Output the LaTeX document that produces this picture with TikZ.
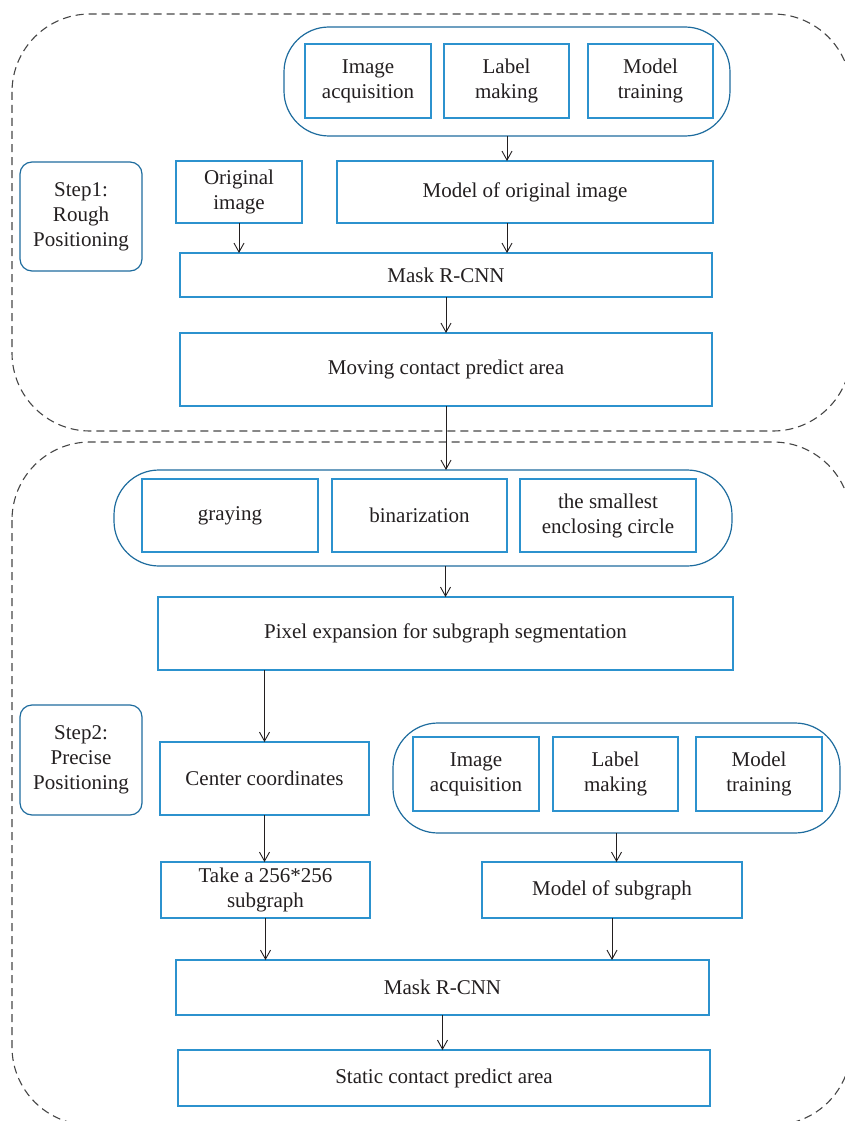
\documentclass[tikz,border=0pt]{standalone}
\usepackage{fontspec}
\setmainfont{Liberation Serif}
\usepackage{tikz}
\usetikzlibrary{arrows.meta}
\definecolor{boxblue}{RGB}{44,146,206}
\definecolor{pillblue}{RGB}{30,108,158}
\definecolor{framegray}{RGB}{70,70,70}
\definecolor{inkgray}{RGB}{35,31,32}

\begin{document}
\begin{tikzpicture}[x=1pt, y=-1pt, node distance=0 cm, outer sep = 0pt, font=\fontsize{21}{25}\selectfont, text=inkgray]

\tikzstyle{place}=[draw=boxblue, line width=1.4pt, rectangle, align=center, anchor=north west]
\tikzstyle{pill}=[draw=pillblue, line width=1.2pt, rectangle, rounded corners=45pt, anchor=north west]
\tikzstyle{stepbox}=[draw=pillblue, line width=1.2pt, rectangle, rounded corners=12pt, align=center, anchor=north west, minimum width=122pt]
\tikzstyle{region}=[draw=framegray, line width=1.1pt, dash pattern=on 8pt off 5pt, rounded corners=78pt]
\tikzstyle{flow}=[draw=inkgray, line width=0.9pt, -{Straight Barb[length=9pt, width=10pt]}]

\useasboundingbox (0,0) rectangle (844,1121);

\draw[region] (12,14) rectangle (851,431);
\draw[region] (12,442) rectangle (851,1125);

\node[stepbox, minimum height=109pt] (step1) at (20,162) {Step1:\\Rough\\Positioning};
\node[stepbox, minimum height=110pt] (step2) at (20,705) {Step2:\\Precise\\Positioning};

\node[pill, minimum width=446pt, minimum height=109pt] (grp1) at (284,27) {};
\node[place, minimum width=126pt, minimum height=74pt] (acq1) at (305,44) {Image\\acquisition}; \node[place, minimum width=125pt, minimum height=74pt] (lab1) at (444,44) {Label\\making}; \node[place, minimum width=125pt, minimum height=74pt] (trn1) at (588,44) {Model\\training};

\node[place, minimum width=126pt, minimum height=62pt] (orig) at (176,161) {Original\\image}; \node[place, minimum width=376pt, minimum height=62pt] (model1) at (337,161) {Model of original image};
\node[place, minimum width=532pt, minimum height=44pt] (mask1) at (180,253) {Mask R-CNN};
\node[place, minimum width=532pt, minimum height=73pt] (move) at (180,333) {Moving contact predict area};

\node[pill, minimum width=618pt, minimum height=96pt] (grp2) at (114,470) {};
\node[place, minimum width=176pt, minimum height=73pt] (gray) at (142,479) {graying}; \node[place, minimum width=175pt, minimum height=73pt] (binar) at (332,479) {binarization}; \node[place, minimum width=176pt, minimum height=73pt] (circ) at (520,479) {the smallest\\enclosing circle};
\node[place, minimum width=575pt, minimum height=73pt] (pixel) at (158,597) {Pixel expansion for subgraph segmentation};

\node[place, minimum width=209pt, minimum height=73pt] (center) at (160,742) {Center coordinates};
\node[pill, minimum width=447pt, minimum height=110pt] (grp3) at (393,723) {};
\node[place, minimum width=126pt, minimum height=74pt] (acq2) at (413,737) {Image\\acquisition}; \node[place, minimum width=125pt, minimum height=74pt] (lab2) at (553,737) {Label\\making}; \node[place, minimum width=126pt, minimum height=74pt] (trn2) at (696,737) {Model\\training};

\node[place, minimum width=209pt, minimum height=56pt] (take) at (161,862) {Take a 256*256\\subgraph}; \node[place, minimum width=260pt, minimum height=56pt] (model2) at (482,862) {Model of subgraph};
\node[place, minimum width=533pt, minimum height=55pt] (mask2) at (176,960) {Mask R-CNN};
\node[place, minimum width=532pt, minimum height=56pt] (static) at (178,1050) {Static contact predict area};

\draw[flow] (grp1.south) -- (grp1.south |- model1.north);
\draw[flow] (orig.south) -- (orig.south |- mask1.north);
\draw[flow] (grp1.south |- model1.south) -- (grp1.south |- mask1.north);
\draw[flow] (mask1.south) -- (move.north);
\draw[flow] (move.south) -- (move.south |- grp2.north);
\draw[flow] (pixel.north |- grp2.south) -- (pixel.north);
\draw[flow] (center.north |- pixel.south) -- (center.north);
\draw[flow] (center.south) -- (center.south |- take.north);
\draw[flow] (grp3.south) -- (grp3.south |- model2.north);
\draw[flow] (take.south) -- (take.south |- mask2.north);
\draw[flow] (model2.south) -- (model2.south |- mask2.north);
\draw[flow] (mask2.south) -- (mask2.south |- static.north);

\end{tikzpicture}
\end{document}
